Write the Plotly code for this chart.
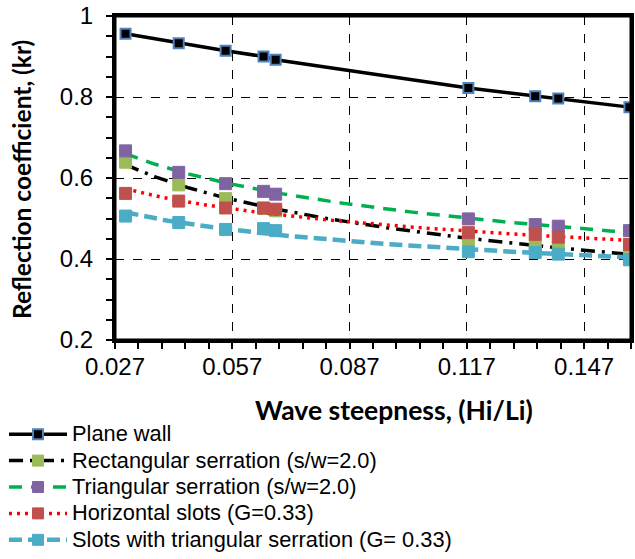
import numpy as np
import plotly.graph_objects as go

# ---- data ----
steepness = [0.0297, 0.0433, 0.0553, 0.0650, 0.0681, 0.1174, 0.1345, 0.1404, 0.1586]
plane_wall = [0.956, 0.933, 0.914, 0.900, 0.892, 0.822, 0.802, 0.796, 0.775]
rect_serration = [0.639, 0.583, 0.549, 0.525, 0.519, 0.449, 0.433, 0.430, 0.416]
tri_serration = [0.667, 0.614, 0.586, 0.567, 0.560, 0.499, 0.485, 0.481, 0.470]
horiz_slots = [0.562, 0.543, 0.526, 0.526, 0.523, 0.465, 0.461, 0.454, 0.436]
slots_tri = [0.506, 0.490, 0.473, 0.475, 0.470, 0.418, 0.416, 0.412, 0.398]

names = ["Plane wall", "Rectangular serration (s/w=2.0)", "Triangular serration (s/w=2.0)",
         "Horizontal slots (G=0.33)", "Slots with triangular serration (G= 0.33)"]
x_ticks = [0.027, 0.057, 0.087, 0.117, 0.147]
y_ticks = [0.2, 0.4, 0.6, 0.8, 1.0]

series = [plane_wall, rect_serration, tri_serration, horiz_slots, slots_tri]
styles = [
    dict(mcolor="black", mline="#4F81BD", lcolor="black", dash="solid", width=3.5, trend=False),
    dict(mcolor="#9BBB59", mline="#9BBB59", lcolor="black", dash="14px,7px,3px,7px", width=3.5, trend=True),
    dict(mcolor="#8064A2", mline="#8064A2", lcolor="#00B050", dash="13px,9px", width=3.5, trend=True),
    dict(mcolor="#C0504D", mline="#C0504D", lcolor="#FF0000", dash="3px,5px", width=3.5, trend=True),
    dict(mcolor="#4BACC6", mline="#4BACC6", lcolor="#4BACC6", dash="13px,6px", width=4.5, trend=True),
]

LEG_SIZE = 21.8


def leg_name(n):
    return f'<span style="font-size:{LEG_SIZE}px">{n}</span>'


fig = go.Figure()
xs = np.array(steepness)
for name, ys, st in zip(names, series, styles):
    ys = np.array(ys)
    if st["trend"]:
        # logarithmic trendline fitted to the series (as in the spreadsheet chart)
        a, b = np.polyfit(np.log(xs), ys, 1)
        xf = np.linspace(xs.min(), 0.159, 120)
        yf = a * np.log(xf) + b
        fig.add_trace(go.Scatter(x=xf, y=yf, mode="lines", showlegend=False, hoverinfo="skip",
                                 line=dict(color=st["lcolor"], width=st["width"], dash=st["dash"])))
        fig.add_trace(go.Scatter(x=xs, y=ys, mode="markers", name=name, showlegend=False,
                                 marker=dict(symbol="square", size=12, color=st["mcolor"],
                                             line=dict(color=st["mline"], width=1))))
        # legend entry showing line style with marker
        fig.add_trace(go.Scatter(x=[None], y=[None], mode="lines+markers", name=leg_name(name),
                                 line=dict(color=st["lcolor"], width=st["width"], dash=st["dash"]),
                                 marker=dict(symbol="square", size=11, color=st["mcolor"],
                                             line=dict(color=st["mline"], width=1))))
    else:
        fig.add_trace(go.Scatter(x=xs, y=ys, mode="lines+markers", name=leg_name(name),
                                 line=dict(color=st["lcolor"], width=st["width"]),
                                 marker=dict(symbol="square", size=10, color=st["mcolor"],
                                             line=dict(color=st["mline"], width=2))))

axis_common = dict(showline=True, linecolor="black", linewidth=3, mirror=True,
                   ticks="outside", tickcolor="black", tickwidth=2, ticklen=6,
                   gridcolor="black", griddash="dash", gridwidth=1.3, zeroline=False,
                   automargin=False, ticklabeloverflow="allow",
                   tickfont=dict(family="Liberation Sans, Arial", size=24, color="black"))

fig.update_xaxes(range=[0.027, 0.159], tickvals=x_ticks, ticktext=[f"{v:.3f}" for v in x_ticks],
                 tickangle=0,
                 minor=dict(dtick=0.006, tick0=0.027, ticks="outside", ticklen=6, tickwidth=2,
                            tickcolor="black", showgrid=False),
                 ticklabelstandoff=-3, **axis_common)
fig.update_yaxes(range=[0.2, 1.0], tickvals=y_ticks, ticktext=["0.2", "0.4", "0.6", "0.8", "1"],
                 minor=dict(dtick=0.05, tick0=0.2, ticks="outside", ticklen=6, tickwidth=2,
                            tickcolor="black", showgrid=False),
                 ticklabelstandoff=8, **axis_common)

# plot-area frame (top and right borders as in the reference)
fig.add_shape(type="rect", xref="paper", yref="paper", x0=0, x1=1, y0=0, y1=1,
              line=dict(color="black", width=3), layer="above")

fig.add_annotation(text="<b>Wave steepness, (Hi/Li)</b>", xref="paper", yref="paper",
                   x=(394 - 115) / 516, y=(340 - 410) / 324, xanchor="center", yanchor="middle",
                   showarrow=False, font=dict(family="Lato, Open Sans", size=26.5, color="black"))
fig.add_annotation(text="<b>Reflection coefficient, (kr)</b>", xref="paper", yref="paper",
                   x=(21 - 115) / 516, y=(340 - 180) / 324, xanchor="center", yanchor="middle",
                   showarrow=False, textangle=-90,
                   font=dict(family="Lato, Open Sans", size=24.5, color="black"))

# plot area spans x 115..631, y 16..340 of the 635x559 page
fig.update_layout(
    width=635, height=559,
    margin=dict(l=115, r=4, t=16, b=219, autoexpand=False),
    paper_bgcolor="white", plot_bgcolor="white",
    font=dict(family="Liberation Sans, Arial", color="black"),
    legend=dict(x=(4 - 115) / 516, y=(340 - 416) / 324,
                xanchor="left", yanchor="top", orientation="v",
                font=dict(family="Liberation Sans, Arial", size=18, color="black"),
                itemwidth=58, tracegroupgap=0, bgcolor="rgba(0,0,0,0)"),
)

fig.write_html("out.html", config={"displayModeBar": False},
               post_script="document.body.style.margin='0';document.body.style.overflow='hidden';")
